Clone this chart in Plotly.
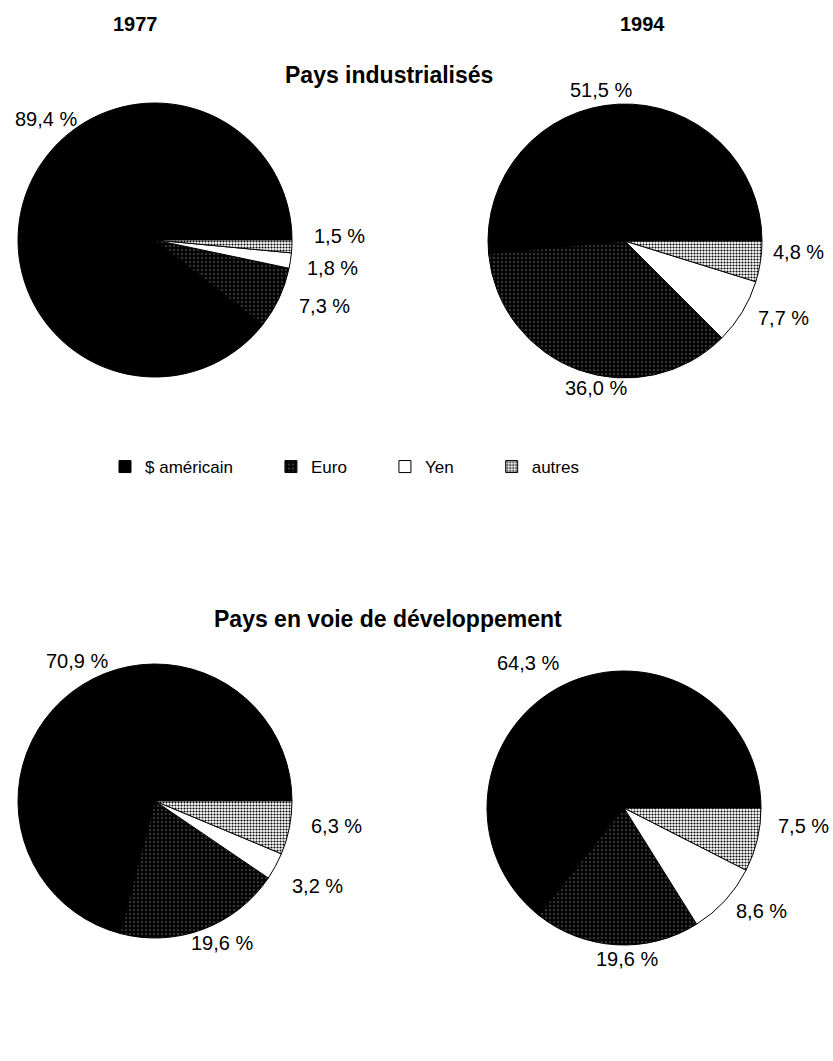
import plotly.graph_objects as go

# ---------------- data ----------------
currencies = ["$ américain", "Euro", "Yen", "autres"]
years = ["1977", "1994"]
groups = ["Pays industrialisés", "Pays en voie de développement"]
ind_1977 = [89.4, 7.3, 1.8, 1.5]
ind_1994 = [51.5, 36.0, 7.7, 4.8]
dev_1977 = [70.9, 19.6, 3.2, 6.3]
dev_1994 = [64.3, 19.6, 8.6, 7.5]

# ---------------- layout constants ----------------
W, H = 833, 1061
FONT = "Liberation Sans, Arial, Helvetica, sans-serif"
DIAM = 274

def fmt(v):
    return f"{v:.1f}".replace(".", ",") + " %"

# legend labels with trailing non-breaking spaces to widen entry spacing
legend_labels = [c + "\u00a0" * 7 for c in currencies]

marker = dict(
    colors=["#000000", "#0a0a0a", "#ffffff", "#ffffff"],
    line=dict(color="#000000", width=1),
    pattern=dict(
        shape=["", ".", "", "."],
        fgcolor=["#000000", "#777777", "#000000", "#000000"],
        bgcolor=["#000000", "#050505", "#ffffff", "#ffffff"],
        size=[4, 4, 4, 3],
        solidity=[0.3, 0.12, 0.3, 0.4],
        fillmode="replace",
    ),
)

def domain(cx, cy, d=DIAM):
    return dict(x=[(cx - d / 2) / W, (cx + d / 2) / W],
                y=[1 - (cy + d / 2) / H, 1 - (cy - d / 2) / H])

pies = [
    (ind_1977, 155, 240, "legend"),
    (ind_1994, 625, 241, "legend"),
    (dev_1977, 155, 801, "legend2"),
    (dev_1994, 624, 808, "legend2"),
]

fig = go.Figure()
for vals, cx, cy, lg in pies:
    # first slice ($) runs counterclockwise from 3 o'clock
    rot = 90 - 360 * vals[0] / sum(vals)
    fig.add_trace(go.Pie(
        labels=legend_labels, values=vals, sort=False,
        direction="counterclockwise", rotation=rot,
        textinfo="none", hoverinfo="label+value",
        marker=marker, domain=domain(cx, cy), legend=lg,
        showlegend=True,
    ))

# ---------------- percentage labels ----------------
label_pos = {
    0: [(46, 119), (324, 306), (332, 268), (339, 236)],
    1: [(601, 90), (596, 388), (783, 318), (798, 252)],
    2: [(77, 661), (222, 943), (317, 886), (336, 826)],
    3: [(528, 663), (627, 959), (761, 911), (803, 826)],
}
series = [ind_1977, ind_1994, dev_1977, dev_1994]
annotations = []
for i, vals in enumerate(series):
    for v, (x, y) in zip(vals, label_pos[i]):
        annotations.append(dict(
            text=fmt(v), x=x / W, y=1 - y / H, xref="paper", yref="paper",
            xanchor="center", yanchor="middle", showarrow=False,
            font=dict(family=FONT, size=20, color="#000"),
        ))

# titles
for txt, x, y, size in [
    (years[0], 135, 24, 20),
    (years[1], 642, 24, 20),
    (groups[0], 389, 75, 23),
    (groups[1], 388, 619, 23),
]:
    annotations.append(dict(
        text=f"<b>{txt}</b>", x=x / W, y=1 - y / H, xref="paper", yref="paper",
        xanchor="center", yanchor="middle", showarrow=False,
        font=dict(family=FONT, size=size, color="#000"),
    ))

legend_common = dict(
    orientation="h", xanchor="left", yanchor="middle",
    font=dict(family=FONT, size=17, color="#000"),
    bgcolor="rgba(0,0,0,0)", traceorder="normal",
)

fig.update_layout(
    width=W, height=H, margin=dict(l=0, r=0, t=0, b=0),
    paper_bgcolor="white", plot_bgcolor="white",
    font=dict(family=FONT, color="#000"),
    annotations=annotations,
    legend=dict(x=105 / W, y=1 - 467 / H, **legend_common),
    legend2=dict(x=105 / W, y=1 - 1047 / H, **legend_common),
)

fig.write_html("out.html")
